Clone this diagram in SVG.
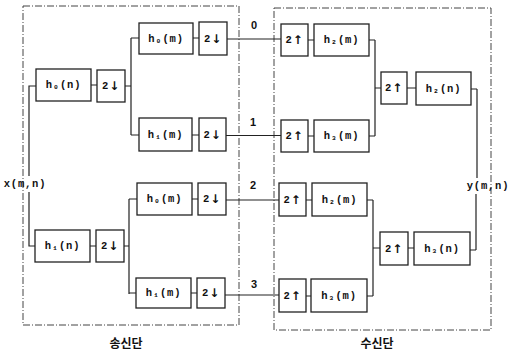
<svg xmlns="http://www.w3.org/2000/svg" width="523" height="354" viewBox="0 0 523 354">
<style>
.b{fill:#fff;stroke:#222;stroke-width:1.3}
.t{font-family:"Liberation Mono","DejaVu Sans Mono",monospace;font-weight:bold;font-size:10.5px;fill:#111;text-anchor:middle;dominant-baseline:central;letter-spacing:0.8px}
.a{font-family:"DejaVu Sans",sans-serif;font-size:12px;font-weight:bold}
.c{stroke:#222;stroke-width:1.2;fill:none}
.d{fill:none;stroke:#444;stroke-width:1;stroke-dasharray:7 2 1 2}
.k{font-family:"Noto Sans CJK KR","Noto Sans",sans-serif;font-weight:bold;font-size:12px;fill:#111;text-anchor:middle}
.n{font-family:"Liberation Sans",sans-serif;font-weight:bold;font-size:11px;fill:#111;text-anchor:middle}
</style>
<rect width="523" height="354" fill="#fff"/>
<rect id="tx-frame" class="d" x="23" y="6" width="216" height="319"/>
<rect id="rx-frame" class="d" x="274" y="8" width="217" height="322"/>
<g id="connectors" class="c">
<path d="M29,176V86H36M29,192V246H35"/>
<path d="M91,85H97M125,86H131M131,38V135M131,38H139M131,135H139M193,38H199M192,135H199M227,39H281M226,135.5H281"/>
<path d="M90,246H96M124,246H129M129,199V294M129,199H137M129,293H136M192,199H198M191,293H197M226,200H279M225,295H279"/>
<path d="M308,40H314M369,40H375M375,40V136M369,136H375M308,136H314M375,88H381M407,88H416M471,89H477M477,89V178"/>
<path d="M306,200H312M367,200H373M373,200V296M367,296H373M306,296H311M373,248H380M408,248H414M470,250H476M476,250V194"/>
</g>
<g id="h0n"><rect class="b" x="36" y="69" width="55" height="32"/><text class="t" x="63.5" y="85">h₀(n)</text></g>
<g id="d1"><rect class="b" x="97" y="70" width="28" height="32"/><text class="t" x="111" y="86">2<tspan class="a">↓</tspan></text></g>
<g id="h0m-a"><rect class="b" x="139" y="23" width="54" height="31"/><text class="t" x="166" y="38.5">h₀(m)</text></g>
<g id="d2"><rect class="b" x="199" y="22" width="28" height="33"/><text class="t" x="213" y="38.5">2<tspan class="a">↓</tspan></text></g>
<g id="h1m-a"><rect class="b" x="139" y="118" width="53" height="33"/><text class="t" x="165.5" y="134.5">h₁(m)</text></g>
<g id="d3"><rect class="b" x="199" y="118" width="27" height="33"/><text class="t" x="212.5" y="134.5">2<tspan class="a">↓</tspan></text></g>
<g id="h1n"><rect class="b" x="35" y="230" width="55" height="32"/><text class="t" x="62.5" y="246">h₁(n)</text></g>
<g id="d4"><rect class="b" x="96" y="230" width="28" height="32"/><text class="t" x="110" y="246">2<tspan class="a">↓</tspan></text></g>
<g id="h0m-b"><rect class="b" x="137" y="183" width="55" height="32"/><text class="t" x="164.5" y="199">h₀(m)</text></g>
<g id="d5"><rect class="b" x="198" y="183" width="28" height="32"/><text class="t" x="212" y="199">2<tspan class="a">↓</tspan></text></g>
<g id="h1m-b"><rect class="b" x="136" y="278" width="55" height="30"/><text class="t" x="163.5" y="293">h₁(m)</text></g>
<g id="d6"><rect class="b" x="197" y="278" width="28" height="30"/><text class="t" x="211" y="293">2<tspan class="a">↓</tspan></text></g>
<g id="u1"><rect class="b" x="281" y="24" width="27" height="32"/><text class="t" x="294.5" y="40">2<tspan class="a">↑</tspan></text></g>
<g id="h2m-a"><rect class="b" x="314" y="24" width="55" height="32"/><text class="t" x="341.5" y="40">h₂(m)</text></g>
<g id="u2"><rect class="b" x="281" y="120" width="27" height="32"/><text class="t" x="294.5" y="136">2<tspan class="a">↑</tspan></text></g>
<g id="h3m-a"><rect class="b" x="314" y="120" width="55" height="32"/><text class="t" x="341.5" y="136">h₃(m)</text></g>
<g id="u3"><rect class="b" x="381" y="72" width="26" height="32"/><text class="t" x="394" y="88">2<tspan class="a">↑</tspan></text></g>
<g id="h2n"><rect class="b" x="416" y="72" width="55" height="33"/><text class="t" x="443.5" y="88.5">h₂(n)</text></g>
<g id="u4"><rect class="b" x="279" y="183" width="27" height="33"/><text class="t" x="292.5" y="199.5">2<tspan class="a">↑</tspan></text></g>
<g id="h2m-b"><rect class="b" x="312" y="183" width="55" height="33"/><text class="t" x="339.5" y="199.5">h₂(m)</text></g>
<g id="u5"><rect class="b" x="279" y="279" width="27" height="33"/><text class="t" x="292.5" y="295.5">2<tspan class="a">↑</tspan></text></g>
<g id="h3m-b"><rect class="b" x="311" y="279" width="56" height="33"/><text class="t" x="339" y="295.5">h₃(m)</text></g>
<g id="u6"><rect class="b" x="380" y="232" width="28" height="33"/><text class="t" x="394" y="248.5">2<tspan class="a">↑</tspan></text></g>
<g id="h3n"><rect class="b" x="414" y="232" width="56" height="33"/><text class="t" x="442" y="248.5">h₃(n)</text></g>
<g id="in"><text class="t" x="25" y="184">x(m,n)</text></g>
<g id="out"><text class="t" x="488" y="186">y(m,n)</text></g>
<g id="labels">
<text class="n" x="254" y="29">0</text>
<text class="n" x="253" y="126">1</text>
<text class="n" x="253" y="189">2</text>
<text class="n" x="254" y="288">3</text>
<text class="k" x="126" y="348">송신단</text>
<text class="k" x="377" y="348">수신단</text>
</g>
</svg>
